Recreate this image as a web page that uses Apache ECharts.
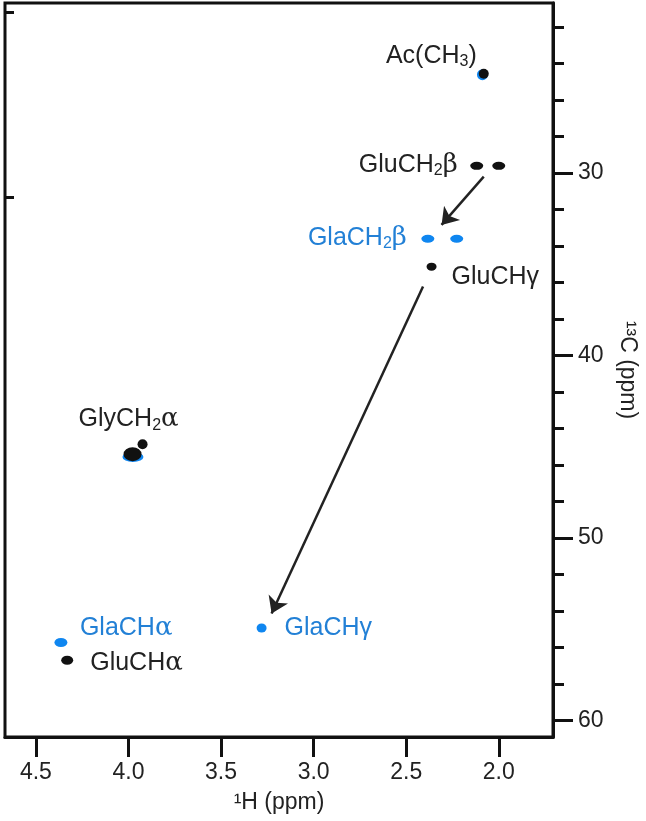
<!DOCTYPE html>
<html>
<head>
<meta charset="utf-8">
<script src="https://cdn.jsdelivr.net/npm/echarts@6/dist/echarts.min.js"></script>
<style>
html, body { margin: 0; padding: 0; background: #fff; }
#main { width: 646px; height: 821px; }
</style>
</head>
<body>
<div id="main"></div>
<script>
// peaks, 1H ppm / 13C ppm
let gluH     = [2.081, 2.119, 2.000, 2.363, 3.978, 3.924, 4.331];
let gluC     = [24.55, 29.60, 29.60, 35.13, 45.41, 44.87, 56.71];
let gluNames = ['Ac(CH3)', 'GluCH2β', '', 'GluCHγ', 'GlyCH2α', '', 'GluCHα'];

let glaH     = [2.088, 2.383, 2.227, 3.976, 4.365, 3.281];
let glaC     = [24.60, 33.60, 33.60, 45.57, 55.74, 54.94];
let glaNames = ['', 'GlaCH2β', '', '', 'GlaCHα', 'GlaCHγ'];

// arrows Glu -> Gla
let arrowFrom = [[2.081, 30.19], [2.409, 36.22]];
let arrowTo   = [[2.309, 32.84], [3.227, 54.15]];

let xTicks      = [4.5, 4.0, 3.5, 3.0, 2.5, 2.0];
let yTicks      = [30, 40, 50, 60];
let yMinorTicks = [22, 24, 26, 28, 30, 32, 34, 36, 38, 40, 42, 44, 46, 48, 50, 52, 54, 56, 58, 60];
let leftTicks   = [21.15, 31.3];

let xRange = [1.707, 4.667];
let yRange = [20.67, 60.92];

let BLACK = '#111';
let BLUE = '#0f86f0';
let BLUE_TEXT = '#2280d6';
let FONT = 'Liberation Sans, Arial, sans-serif';

// marker sizes and label placement (align, dx, dy)
let gluSize = [[10, 10], [13, 8], [13, 8], [10, 8], [18, 14], [10, 10], [12, 9]];
let glaSize = [[11, 11], [13, 8], [13, 8], [21, 10], [13, 9], [10, 9]];
let labelPlace = {
    'Ac(CH3)': ['right', -7, -18],
    'GluCH2β': ['right', -19, -1],
    'GlaCH2β': ['right', -21, -1],
    'GluCHγ':  ['left', 20, 10],
    'GlyCH2α': ['center', -4, -35],
    'GlaCHα':  ['left', 19, -14],
    'GluCHα':  ['left', 23, 3],
    'GlaCHγ':  ['left', 23, 0]
};

let richText = {
    t: { fontSize: 25, fontFamily: FONT, lineHeight: 28 },
    s: { fontSize: 16, fontFamily: FONT, lineHeight: 11, verticalAlign: 'bottom' },
    g: { fontSize: 26, fontFamily: 'DejaVu Serif, Liberation Serif, serif', lineHeight: 28 }
};

function fmtName(name) {
    let s = name.replace(/H([23])/g, 'H}{s|$1}{t|').replace(/([αβ])/g, '}{g|$1}{t|');
    return '{t|' + s + '}';
}

function buildData(hs, cs, names, sizes, color) {
    return hs.map((h, i) => {
        let item = { value: [h, cs[i]], symbolSize: sizes[i] };
        let name = names[i];
        if (name) {
            let p = labelPlace[name];
            item.label = {
                show: true,
                position: 'inside',
                align: p[0],
                verticalAlign: 'middle',
                offset: [p[1], p[2]],
                color: color,
                textBorderWidth: 0,
                formatter: fmtName(name),
                rich: richText
            };
        }
        return item;
    });
}

let chart = echarts.init(document.getElementById('main'));

let axisLineStyle = { color: BLACK, width: 3 };

let option = {
    backgroundColor: '#fff',
    animation: false,
    grid: {
        left: 5, right: 93, top: 3, bottom: 84,
        show: true, borderColor: BLACK, borderWidth: 3,
        outerBoundsMode: 'none'
    },
    xAxis: {
        type: 'value', position: 'bottom', inverse: true,
        min: xRange[0], max: xRange[1],
        axisLine: { show: true, onZero: false, lineStyle: axisLineStyle },
        axisTick: { show: true, length: 20, customValues: xTicks, lineStyle: axisLineStyle },
        axisLabel: {
            customValues: xTicks, formatter: (v) => v.toFixed(1),
            margin: 24, fontSize: 23, color: '#222', fontFamily: FONT
        },
        splitLine: { show: false },
        name: '\u00B9H (ppm)', nameLocation: 'middle', nameGap: 54,
        nameTextStyle: { fontSize: 23, color: '#222', fontFamily: FONT }
    },
    yAxis: [{
        type: 'value', position: 'right', inverse: true,
        min: yRange[0], max: yRange[1],
        axisLine: { show: true, onZero: false, lineStyle: axisLineStyle },
        axisTick: { show: true, length: 11, customValues: yMinorTicks, lineStyle: axisLineStyle },
        axisLabel: { show: false },
        splitLine: { show: false }
    }, {
        type: 'value', position: 'right', inverse: true,
        min: yRange[0], max: yRange[1],
        axisLine: { show: false, onZero: false },
        axisTick: { show: true, length: 20, customValues: yTicks, lineStyle: axisLineStyle },
        axisLabel: { customValues: yTicks, margin: 25, fontSize: 23, color: '#222', fontFamily: FONT },
        splitLine: { show: false },
        name: '\u00B9\u00B3C (ppm)', nameLocation: 'middle', nameGap: 63, nameRotate: -90,
        nameTextStyle: { fontSize: 23, color: '#222', fontFamily: FONT }
    }, {
        type: 'value', position: 'left', inverse: true,
        min: yRange[0], max: yRange[1],
        axisLine: { show: false, onZero: false },
        axisTick: { show: true, inside: true, length: 9, customValues: leftTicks, lineStyle: axisLineStyle },
        axisLabel: { show: false },
        splitLine: { show: false }
    }],
    series: [{
        type: 'scatter',
        name: 'Gla',
        symbol: 'circle',
        itemStyle: { color: BLUE, opacity: 1 },
        data: buildData(glaH, glaC, glaNames, glaSize, BLUE_TEXT),
        z: 2
    }, {
        type: 'scatter',
        name: 'Glu',
        symbol: 'circle',
        itemStyle: { color: BLACK, opacity: 1 },
        data: buildData(gluH, gluC, gluNames, gluSize, '#222'),
        z: 3
    }, {
        type: 'lines',
        coordinateSystem: 'cartesian2d',
        symbol: ['none', 'arrow'],
        symbolSize: 16,
        lineStyle: { color: '#222', width: 2.5, opacity: 1 },
        data: arrowFrom.map((from, i) => ({ coords: [from, arrowTo[i]] })),
        z: 4
    }]
};

chart.setOption(option);
</script>
</body>
</html>
